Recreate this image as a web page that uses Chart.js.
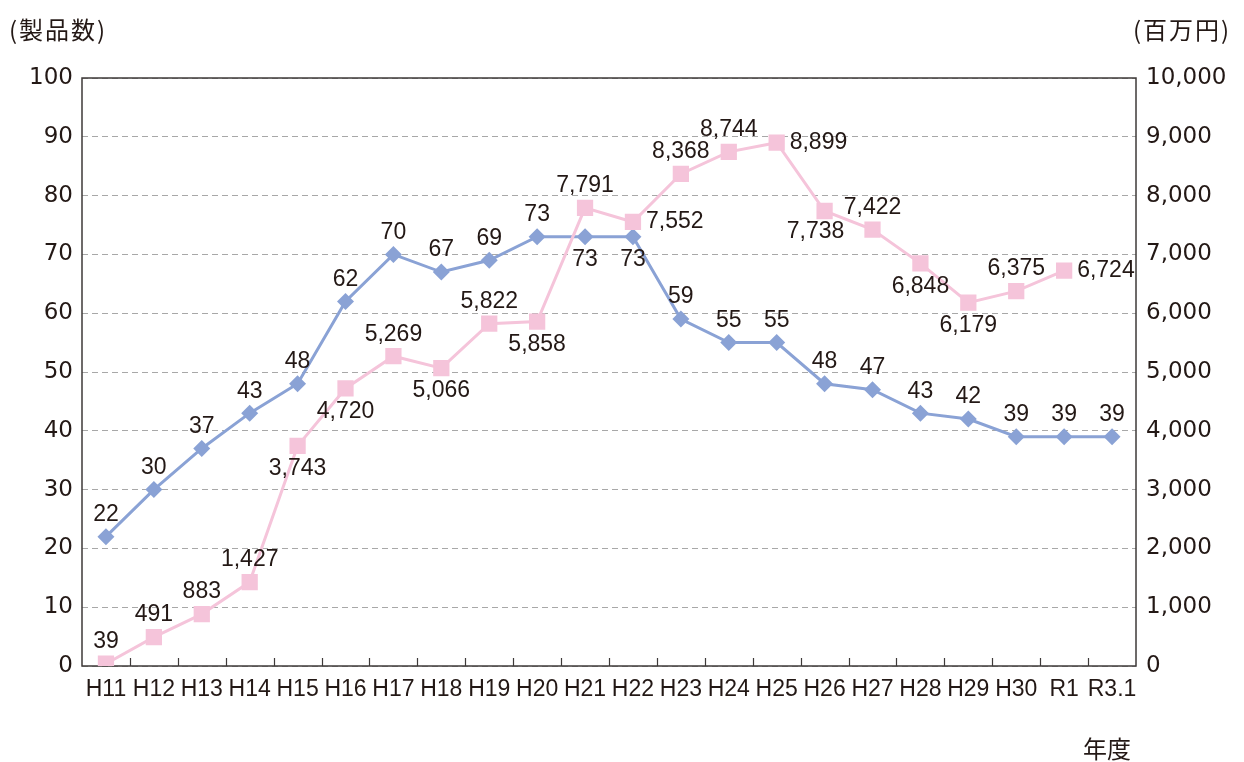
<!DOCTYPE html>
<html lang="ja">
<head>
<meta charset="utf-8">
<title>製品数と金額の推移</title>
<script src="https://cdn.jsdelivr.net/npm/chart.js@4.4.1/dist/chart.umd.min.js"></script>
<style>
  html, body { margin: 0; padding: 0; background: #fff; }
  #wrap { position: relative; width: 1244px; height: 762px; }
  .unit {
    position: absolute;
    font-family: "Noto Sans CJK JP", sans-serif;
    font-size: 24px;
    line-height: 1;
    color: #231815;
    white-space: nowrap;
    letter-spacing: 2px;
  }
</style>
</head>
<body>
<div id="wrap">
  <canvas id="trendChart"></canvas>
  <div class="unit" style="left:9px; top:17px;">(製品数)</div>
  <div class="unit" style="left:1133px; top:17px;">(百万円)</div>
  <div class="unit" style="left:1083px; top:736px; letter-spacing:0;">年度</div>
</div>
<script>
// Fiscal years along the bottom
const years = ['H11', 'H12', 'H13', 'H14', 'H15', 'H16', 'H17', 'H18', 'H19', 'H20',
  'H21', 'H22', 'H23', 'H24', 'H25', 'H26', 'H27', 'H28', 'H29', 'H30', 'R1', 'R3.1'];

// Number of products (left axis)
const productCounts = [22, 30, 37, 43, 48, 62, 70, 67, 69, 73,
  73, 73, 59, 55, 55, 48, 47, 43, 42, 39, 39, 39];

// Amount in million yen (right axis), no figure for R3.1
const salesAmounts = [39, 491, 883, 1427, 3743, 4720, 5269, 5066, 5822, 5858,
  7791, 7552, 8368, 8744, 8899, 7738, 7422, 6848, 6179, 6375, 6724, null];

// Where each value label sits relative to its point
const countLabelSide = ['above', 'above', 'above', 'above', 'above', 'above', 'above', 'above', 'above', 'above',
  'below', 'below', 'above', 'above', 'above', 'above', 'above', 'above', 'above', 'above', 'above', 'above'];
const salesLabelSide = ['above', 'above', 'above', 'above', 'below', 'below', 'above', 'below', 'above', 'below',
  'above', 'right', 'above', 'above', 'right', 'belowLeft', 'above', 'below', 'below', 'above', 'right', null];

const BLUE = '#8aa2d5';
const PINK = '#f5c4da';
const INK = '#231815';
const FRAME = '#3e3a39';

const labelOffsets = {
  above: { dx: 0, dy: -22, align: 'center' },
  below: { dx: 0, dy: 23, align: 'center' },
  belowLeft: { dx: -9, dy: 21, align: 'center' },
  right: { dx: 13, dy: 0, align: 'left' }
};

const fmt = v => v.toLocaleString('en-US');

// Box around the plot plus the small inward ticks between years
const framePlugin = {
  id: 'frame',
  beforeDatasetsDraw(chart) {
    const { ctx, chartArea: a, scales } = chart;
    const x = scales.x;
    ctx.save();
    ctx.strokeStyle = FRAME;
    ctx.lineWidth = 1.5;
    ctx.strokeRect(a.left, a.top, a.right - a.left, a.bottom - a.top);
    ctx.beginPath();
    for (let i = 1; i < years.length; i++) {
      const px = Math.round((x.getPixelForValue(i - 1) + x.getPixelForValue(i)) / 2) + 0.5;
      ctx.moveTo(px, a.bottom);
      ctx.lineTo(px, a.bottom - 8);
    }
    ctx.lineWidth = 1.2;
    ctx.stroke();
    ctx.restore();
  }
};

// Value labels next to every point
const valueLabels = {
  id: 'valueLabels',
  afterDatasetsDraw(chart) {
    const { ctx } = chart;
    ctx.save();
    ctx.font = '23px "Liberation Sans", Arial, sans-serif';
    ctx.fillStyle = INK;
    ctx.textBaseline = 'middle';
    chart.data.datasets.forEach((ds, di) => {
      const meta = chart.getDatasetMeta(di);
      meta.data.forEach((pt, i) => {
        const v = ds.data[i];
        const side = ds.labelSide[i];
        if (v == null || !side) return;
        const o = labelOffsets[side];
        ctx.textAlign = o.align;
        ctx.fillText(fmt(v), pt.x + o.dx, pt.y + o.dy);
      });
    });
    ctx.restore();
  }
};

const tickFont = { family: '"DejaVu Sans", sans-serif', size: 23 };

new Chart(document.getElementById('trendChart'), {
  type: 'line',
  data: {
    labels: years,
    datasets: [
      {
        label: '金額',
        data: salesAmounts,
        labelSide: salesLabelSide,
        yAxisID: 'y1',
        borderColor: PINK,
        backgroundColor: PINK,
        borderWidth: 3,
        pointStyle: 'rect',
        pointRadius: 11.5,
        pointBorderWidth: 0,
        tension: 0,
        spanGaps: false
      },
      {
        label: '製品数',
        data: productCounts,
        labelSide: countLabelSide,
        yAxisID: 'y',
        borderColor: BLUE,
        backgroundColor: BLUE,
        borderWidth: 3,
        pointStyle: 'rectRot',
        pointRadius: 8.5,
        pointBorderWidth: 0,
        tension: 0
      }
    ]
  },
  options: {
    responsive: true,
    maintainAspectRatio: false,
    animation: false,
    layout: { padding: { top: 78, left: 0, right: 0, bottom: 0 } },
    plugins: {
      legend: { display: false },
      tooltip: { enabled: false }
    },
    scales: {
      x: {
        offset: true,
        grid: { display: false, drawTicks: false },
        border: { display: false },
        ticks: { color: INK, font: { family: '"Liberation Sans", Arial, sans-serif', size: 23 }, padding: 10, maxRotation: 0, autoSkip: false },
        afterFit: s => { s.height = 96; }
      },
      y: {
        position: 'left',
        min: 0,
        max: 100,
        grid: { color: '#a8a8a8', lineWidth: 1, drawTicks: false },
        border: { display: false, dash: [6, 4] },
        ticks: { stepSize: 10, color: INK, font: tickFont, padding: 9 },
        afterFit: s => { s.width = 82; }
      },
      y1: {
        position: 'right',
        min: 0,
        max: 10000,
        grid: { display: false, drawTicks: false },
        border: { display: false },
        ticks: { stepSize: 1000, color: INK, font: tickFont, padding: 10, callback: v => fmt(v) },
        afterFit: s => { s.width = 108; }
      }
    }
  },
  plugins: [framePlugin, valueLabels]
});
</script>
</body>
</html>
